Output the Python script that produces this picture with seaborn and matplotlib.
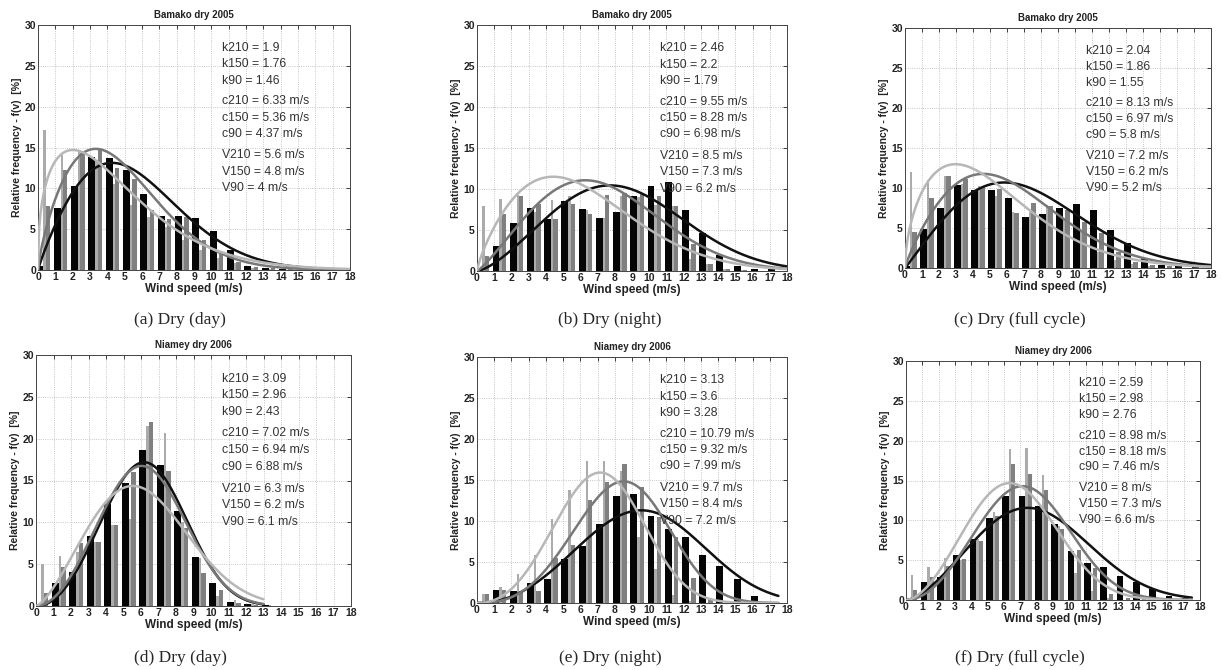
import numpy as np
import pandas as pd
import matplotlib
matplotlib.use("Agg")
import matplotlib.pyplot as plt
import seaborn as sns

# wind speed bins (m/s)
bins18 = list(range(18))
bins14 = list(range(14))

a_210 = [0.5, 7.6, 10.3, 13.8, 13.7, 12.3, 9.3, 6.6, 6.6, 6.4, 4.8, 2.4, 0.5, 0.3, 0.1, 0, 0, 0]
a_150 = [7.8, 12.3, 14.3, 14.8, 12.5, 11.2, 7.4, 6.2, 6.5, 3.7, 2.0, 1.0, 0.4, 0.2, 0.1, 0, 0, 0]
a_90 = [17.2, 14.1, 14.5, 13.5, 10.5, 8.0, 6.5, 5.3, 3.7, 2.5, 1.5, 0.8, 0.3, 0.1, 0, 0, 0, 0]

b_210 = [0.2, 3.1, 5.9, 7.7, 6.3, 8.5, 7.6, 6.5, 7.2, 9.1, 10.4, 10.9, 7.4, 4.6, 1.9, 0.6, 0.3, 0.2]
b_150 = [1.8, 6.9, 9.1, 8.2, 6.3, 8.2, 7.0, 9.3, 9.5, 9.5, 9.1, 7.9, 3.3, 0.8, 0.3, 0.1, 0, 0]
b_90 = [7.9, 8.8, 9.3, 7.2, 8.6, 9.1, 7.5, 6.5, 9.2, 9.0, 8.0, 7.9, 1.5, 0.8, 0.3, 0.1, 0, 0]

c_210 = [0.3, 4.9, 7.5, 10.4, 9.7, 9.8, 8.7, 6.4, 6.8, 7.5, 8.0, 7.2, 4.7, 3.1, 1.2, 0.4, 0.2, 0.1]
c_150 = [4.5, 8.8, 11.5, 11.1, 10.1, 9.9, 6.9, 8.1, 7.8, 7.3, 5.8, 4.4, 2.0, 0.8, 0.4, 0.2, 0, 0]
c_90 = [12.0, 11.0, 11.5, 10.5, 10.2, 9.0, 7.0, 7.0, 7.9, 6.0, 4.5, 2.0, 1.0, 0.5, 0.2, 0, 0, 0]

d_210 = [0.1, 2.8, 4.1, 8.4, 12.2, 14.7, 18.7, 16.9, 11.4, 5.9, 2.8, 0.5, 0.2, 0.1]
d_150 = [1.5, 4.7, 7.5, 7.6, 9.7, 16.0, 22.0, 16.1, 9.3, 4.0, 1.9, 0.4, 0.1, 0.05]
d_90 = [5.0, 6.0, 6.4, 7.6, 9.7, 10.4, 21.5, 20.7, 10.0, 5.7, 1.2, 0.7, 0.2, 0.1]

e_210 = [0, 1.6, 1.5, 2.4, 2.9, 5.4, 6.9, 9.6, 13.0, 13.3, 10.6, 9.0, 8.1, 5.9, 4.5, 2.9, 0.9, 0]
e_150 = [1.1, 1.6, 1.5, 1.5, 5.5, 7.1, 12.6, 14.8, 16.9, 14.2, 10.5, 8.0, 3.0, 0.5, 0.1, 0, 0, 0]
e_90 = [1.1, 2.0, 3.5, 5.8, 10.2, 13.8, 17.3, 17.3, 16.1, 8.0, 4.1, 1.0, 0.3, 0, 0, 0, 0, 0]

f_210 = [0.1, 2.3, 2.9, 5.7, 7.6, 10.3, 13.1, 13.1, 11.8, 9.5, 6.2, 4.7, 4.1, 3.0, 2.2, 1.4, 0.5, 0.2]
f_150 = [1.3, 2.9, 4.3, 5.1, 7.4, 10.6, 17.1, 15.8, 13.8, 8.9, 6.3, 4.0, 0.8, 0.3, 0.1, 0, 0, 0]
f_90 = [3.2, 4.1, 5.3, 5.0, 7.6, 11.0, 19.0, 19.1, 15.7, 9.3, 3.4, 1.1, 0.2, 0, 0, 0, 0, 0]

# Weibull parameters printed in each panel (210, 150, 90 m)
k_a = ["1.9", "1.76", "1.46"]; c_a = ["6.33", "5.36", "4.37"]; v_a = ["5.6", "4.8", "4"]
k_b = ["2.46", "2.2", "1.79"]; c_b = ["9.55", "8.28", "6.98"]; v_b = ["8.5", "7.3", "6.2"]
k_c = ["2.04", "1.86", "1.55"]; c_c = ["8.13", "6.97", "5.8"]; v_c = ["7.2", "6.2", "5.2"]
k_d = ["3.09", "2.96", "2.43"]; c_d = ["7.02", "6.94", "6.88"]; v_d = ["6.3", "6.2", "6.1"]
k_e = ["3.13", "3.6", "3.28"]; c_e = ["10.79", "9.32", "7.99"]; v_e = ["9.7", "8.4", "7.2"]
k_f = ["2.59", "2.98", "2.76"]; c_f = ["8.98", "8.18", "7.46"]; v_f = ["8", "7.3", "6.6"]

# curve shape as drawn; the 90 m curve of (a) peaks near 14 %, lower than its printed k/c give
kdraw_a = [1.9, 1.76, 1.39]; cdraw_a = [6.33, 5.36, 5.0]

titles = ["Bamako dry 2005"] * 3 + ["Niamey dry 2006"] * 3
captions = ["(a) Dry (day)", "(b) Dry (night)", "(c) Dry (full cycle)",
            "(d) Dry (day)", "(e) Dry (night)", "(f) Dry (full cycle)"]
heights = ["210", "150", "90"]
curve_end = [18, 18, 18, 13, 17.5, 17.5]

panels = [
    (bins18, [a_210, a_150, a_90], k_a, c_a, v_a, kdraw_a, cdraw_a),
    (bins18, [b_210, b_150, b_90], k_b, c_b, v_b, None, None),
    (bins18, [c_210, c_150, c_90], k_c, c_c, v_c, None, None),
    (bins14, [d_210, d_150, d_90], k_d, c_d, v_d, None, None),
    (bins18, [e_210, e_150, e_90], k_e, c_e, v_e, None, None),
    (bins18, [f_210, f_150, f_90], k_f, c_f, v_f, None, None),
]

sns.set_style("white")
plt.rcParams['font.family'] = ['Liberation Sans', 'DejaVu Sans']

W, H = 1223, 670
fig = plt.figure(figsize=(W / 100, H / 100), dpi=100)

# axes boxes in pixels: left, right, top, bottom
boxes = [(38, 350, 25, 270), (477, 787, 25, 271), (905, 1211, 28, 268),
         (36, 351, 355, 606), (477, 787, 357, 603), (906, 1200, 361, 600)]
cap_pos = [(180, 320), (610, 320), (1020, 320), (180, 658), (610, 658), (1020, 658)]

bar_col = {"210": "#050505", "150": "#808080", "90": "#ababab"}
curve_col = {"210": "#111111", "150": "#787878", "90": "#b7b7b7"}
# bar offset / width inside each 1 m/s bin
bar_geo = {"210": (0.1, 0.4), "90": (0.37, 0.14), "150": (0.565, 0.25)}

for i, (bins, series, ks, cs, vs, kd, cd) in enumerate(panels):
    l, r, t, b = boxes[i]
    ax = fig.add_axes([l / W, 1 - b / H, (r - l) / W, (b - t) / H])

    for h, vals in zip(heights, series):
        off, wd = bar_geo[h]
        ax.bar(np.array(bins) + off, vals, width=wd, color=bar_col[h], edgecolor='none', zorder=2)

    kk = kd if kd is not None else [float(x) for x in ks]
    cc = cd if cd is not None else [float(x) for x in cs]
    for h, k, c in zip(heights, kk, cc):
        v = np.linspace(0.0, curve_end[i], 300)
        f = 100 * (k / c) * (v / c) ** (k - 1) * np.exp(-(v / c) ** k)
        df = pd.DataFrame({"v": v, "f": f})
        sns.lineplot(data=df, x="v", y="f", ax=ax, color=curve_col[h], lw=1.8, zorder=3)

    ax.set_xlim(0, 18)
    ax.set_ylim(0, 30)
    ax.set_xticks(range(19))
    ax.set_yticks(range(0, 31, 5))
    ax.grid(True, ls=':', color='#b5b5b5', lw=0.6, zorder=0)
    ax.set_axisbelow(True)
    ax.tick_params(direction='in', top=True, right=True, length=3, width=0.6,
                   labelsize=7.5, pad=1.5, colors='#222222')
    for lab in ax.get_xticklabels() + ax.get_yticklabels():
        lab.set_fontweight('bold')
    for s in ax.spines.values():
        s.set_linewidth(0.7)
        s.set_color('#444444')
    ax.set_xlabel("Wind speed (m/s)", fontsize=8.5, fontweight='bold', labelpad=1, color='#222222')
    ax.set_ylabel("Relative frequency - f(v)  [%]", fontsize=7.5, fontweight='bold', labelpad=2, color='#222222')
    ax.set_title(titles[i], fontsize=7, fontweight='bold', pad=5, color='#222222')

    lines = [f"k{h} = {k}" for h, k in zip(heights, ks)] + \
            [f"c{h} = {c} m/s" for h, c in zip(heights, cs)] + \
            [f"V{h} = {v} m/s" for h, v in zip(heights, vs)]
    ypos = [0.906, 0.839, 0.772, 0.688, 0.621, 0.555, 0.468, 0.401, 0.334]
    for txt, yy in zip(lines, ypos):
        ax.text(0.59, yy, txt, transform=ax.transAxes, fontsize=8.8, va='center',
                ha='left', color='#333333', zorder=4)

    cx, cy = cap_pos[i]
    fig.text(cx / W, 1 - cy / H, captions[i], ha='center', va='center', fontsize=12.5,
             family='Liberation Serif')

fig.savefig("out.png", dpi=100)
